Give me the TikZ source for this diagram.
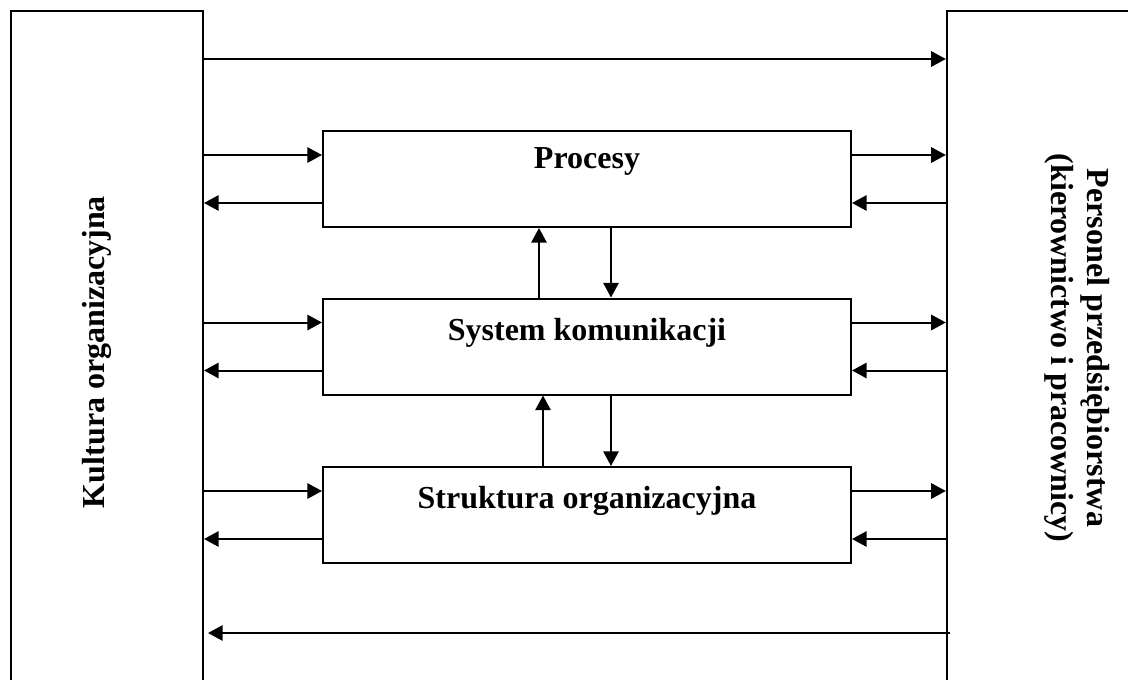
\documentclass[tikz,border=0pt]{standalone}
\usepackage{fontspec}
\setmainfont{Liberation Serif}
\usetikzlibrary{arrows.meta}

\tikzset{every picture/.style={line width=0.75pt}}
\tikzset{
  blok/.style={draw, line width=1.5pt, inner sep=0pt, minimum width=396pt, minimum height=72pt},
  bok/.style={draw, line width=1.5pt, inner sep=0pt, minimum width=144pt, minimum height=520pt},
  napis/.style={font=\fontsize{24}{27}\selectfont\bfseries, inner sep=0pt},
  strz/.style={line width=1.5pt, -{Triangle[length=11pt,width=11.5pt]}}
}

\begin{document}
\begin{tikzpicture}[x=0.75pt,y=0.75pt,yscale=-1,xscale=1]

\useasboundingbox (0,0) rectangle (1128,679);

% side blocks (cut by the page edge)
\node [bok] (kultura) at (107,357.7) {};
\node [bok, minimum width=145pt] (personel) at (1043.5,357.7) {};

% middle blocks
\node [blok] (procesy) at (587,179) {};
\node [blok] (system) at (587,346.5) {};
\node [blok] (struktura) at (587,515) {};

\node [napis, anchor=base] (procesyT) at (587,168) {Procesy};
\node [napis, anchor=base] (systemT) at (587,340) {System komunikacji};
\node [napis, anchor=base] (strukturaT) at (587,508) {Struktura organizacyjna};
\node [napis, anchor=base, rotate=90] (kulturaT) at (104,352) {Kultura organizacyjna};
\node [napis, rotate=-90, align=center] (personelT) at (1077,348) {Personel przedsiębiorstwa\\(kierownictwo i pracownicy)};

\coordinate (gora) at (0,59);
\coordinate (dol) at (0,633);

\draw [strz] (kultura.east |- gora) -- (personel.west |- gora);
\draw [strz, shorten >=3pt, shorten <=-3pt] (personel.west |- dol) -- (kultura.east |- dol);

% yscale=-1 turns the shifts round: yshift=-18pt is the upper line
\draw [strz] ([yshift=-18pt]procesy.west -| kultura.east) -- ([yshift=-18pt]procesy.west);
\draw [strz] ([yshift=18pt]procesy.west) -- ([yshift=18pt]procesy.west -| kultura.east);
\draw [strz] ([yshift=-18pt]procesy.east) -- ([yshift=-18pt]procesy.east -| personel.west);
\draw [strz] ([yshift=18pt]procesy.east -| personel.west) -- ([yshift=18pt]procesy.east);

\draw [strz] ([yshift=-18pt]system.west -| kultura.east) -- ([yshift=-18pt]system.west);
\draw [strz] ([yshift=18pt]system.west) -- ([yshift=18pt]system.west -| kultura.east);
\draw [strz] ([yshift=-18pt]system.east) -- ([yshift=-18pt]system.east -| personel.west);
\draw [strz] ([yshift=18pt]system.east -| personel.west) -- ([yshift=18pt]system.east);

\draw [strz] ([yshift=-18pt]struktura.west -| kultura.east) -- ([yshift=-18pt]struktura.west);
\draw [strz] ([yshift=18pt]struktura.west) -- ([yshift=18pt]struktura.west -| kultura.east);
\draw [strz] ([yshift=-18pt]struktura.east) -- ([yshift=-18pt]struktura.east -| personel.west);
\draw [strz] ([yshift=18pt]struktura.east -| personel.west) -- ([yshift=18pt]struktura.east);

% links between the middle blocks
\draw [strz] ([xshift=-36pt]system.north) -- ([xshift=-36pt]procesy.south);
\draw [strz] ([xshift=18pt]procesy.south) -- ([xshift=18pt]system.north);
\draw [strz] ([xshift=-33pt]struktura.north) -- ([xshift=-33pt]system.south);
\draw [strz] ([xshift=18pt]system.south) -- ([xshift=18pt]struktura.north);

\end{tikzpicture}
\end{document}
